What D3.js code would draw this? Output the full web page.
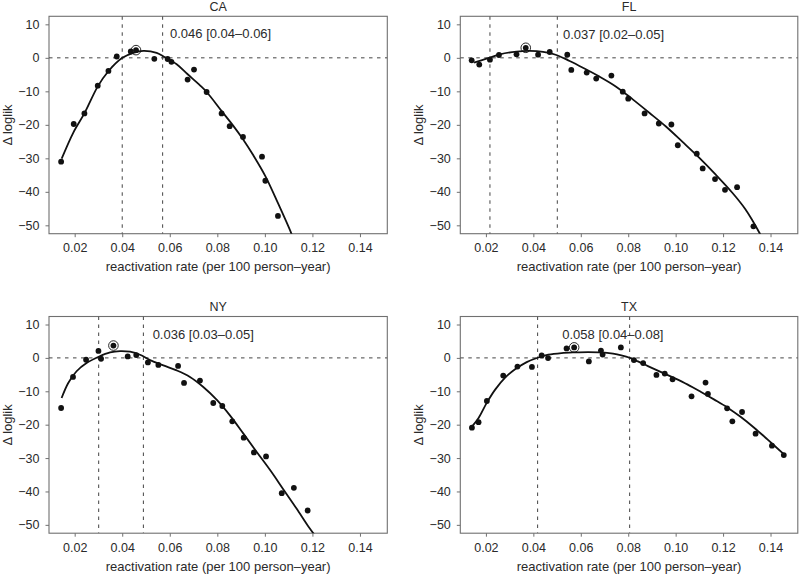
<!DOCTYPE html>
<html><head><meta charset="utf-8">
<script src="https://cdn.jsdelivr.net/npm/d3@7"></script>
<style>body{margin:0;background:#fff}</style>
</head><body><svg id="c" width="800" height="575"></svg>
<script>
// ---------- data ----------
const states = ["CA", "FL", "NY", "TX"];
const mleText = ["0.046 [0.04\u20130.06]", "0.037 [0.02\u20130.05]", "0.036 [0.03\u20130.05]", "0.058 [0.04\u20130.08]"];
const mleRate = [0.0458, 0.0368, 0.0363, 0.0572];
const mleLoglik = [2.3, 3.0, 3.7, 3.15];
const ciLow = [0.0400, 0.0217, 0.0301, 0.0418];
const ciHigh = [0.0570, 0.0501, 0.0489, 0.0806];
const textRate = [0.0601, 0.0525, 0.0528, 0.0522];
const textLoglik = [5.8, 5.6, 5.7, 5.7];

const xTicks = [0.02, 0.04, 0.06, 0.08, 0.10, 0.12, 0.14];
const xTickLabels = ["0.02", "0.04", "0.06", "0.08", "0.10", "0.12", "0.14"];
const yTicks = [10, 0, -10, -20, -30, -40, -50];
const yTickLabels = ["10", "0", "\u221210", "\u221220", "\u221230", "\u221240", "\u221250"];

const caRate = [0.0143, 0.0196, 0.0241, 0.0297, 0.0342, 0.0377, 0.0436, 0.0458, 0.0535, 0.0591, 0.0607, 0.0675, 0.0702, 0.0755, 0.0818, 0.0852, 0.0908, 0.0988, 0.1002, 0.1055];
const caLoglik = [-31.0, -19.75, -16.6, -8.3, -3.9, 0.4, 1.9, 2.3, -0.3, -0.35, -1.2, -6.5, -3.5, -10.2, -16.6, -20.4, -23.6, -29.5, -36.7, -47.2];
const caFitRate = [0.01453, 0.01944, 0.02407, 0.02967, 0.03416, 0.04005, 0.04467, 0.0489, 0.05449, 0.05799, 0.0629, 0.06753, 0.07271, 0.07552, 0.08183, 0.08673, 0.0908, 0.09514, 0.1002, 0.10552, 0.1110, 0.1115];
const caFitLoglik = [-30.1, -22.3, -16.6, -8.6, -4.0, 0.0, 1.5, 2.1, 1.5, 0.15, -1.9, -4.9, -8.2, -10.2, -15.9, -20.3, -24.3, -29.1, -35.3, -43.4, -52.2, -53.2];

const flRate = [0.0140, 0.0172, 0.0217, 0.0255, 0.0329, 0.0368, 0.0420, 0.0469, 0.0543, 0.0560, 0.0625, 0.0665, 0.0729, 0.0777, 0.0800, 0.0869, 0.0929, 0.0982, 0.1009, 0.1089, 0.1114, 0.1166, 0.1208, 0.1259, 0.1328];
const flLoglik = [-0.75, -2.0, -0.55, 0.85, 1.05, 3.0, 0.95, 1.75, 0.95, -3.6, -4.4, -6.2, -5.3, -10.1, -12.2, -16.6, -19.6, -19.9, -26.1, -28.6, -33.0, -36.2, -39.4, -38.6, -50.3];
const flFitRate = [0.0150, 0.0203, 0.0259, 0.0329, 0.0385, 0.0441, 0.0497, 0.0553, 0.0609, 0.0679, 0.0749, 0.0819, 0.0889, 0.0959, 0.1029, 0.1099, 0.1168, 0.1238, 0.1294, 0.1353, 0.1360];
const flFitLoglik = [-1.4, -0.25, 1.05, 1.85, 2.05, 1.75, 0.85, -0.95, -2.95, -5.6, -8.6, -12.4, -16.4, -20.5, -25.1, -29.8, -34.8, -40.2, -45.2, -52.2, -53.2];

const nyRate = [0.0143, 0.0193, 0.0248, 0.0300, 0.0311, 0.0363, 0.0423, 0.0459, 0.0508, 0.0552, 0.0635, 0.0660, 0.0727, 0.0783, 0.0821, 0.0863, 0.0911, 0.0954, 0.1005, 0.1071, 0.1122, 0.1180];
const nyLoglik = [-15.0, -5.7, -0.55, 2.1, -0.25, 3.7, 0.45, 0.85, -1.35, -2.1, -2.4, -7.5, -6.8, -13.5, -14.4, -19.0, -23.9, -28.3, -29.5, -40.5, -38.9, -45.7];
const nyFitRate = [0.0145, 0.0173, 0.0208, 0.0250, 0.0301, 0.0349, 0.0391, 0.0433, 0.0475, 0.0517, 0.0573, 0.0629, 0.0685, 0.0741, 0.0797, 0.0853, 0.0909, 0.0965, 0.1022, 0.1078, 0.1134, 0.1183, 0.1211];
const nyFitLoglik = [-12.0, -7.5, -4.0, -1.55, 0.35, 1.65, 2.05, 1.85, 0.95, -0.65, -2.25, -3.75, -5.7, -8.7, -12.5, -17.2, -22.6, -28.1, -33.6, -39.4, -45.2, -50.5, -53.2];

const txRate = [0.0141, 0.0169, 0.0204, 0.0273, 0.0333, 0.0394, 0.0435, 0.0462, 0.0540, 0.0572, 0.0634, 0.0685, 0.0692, 0.0769, 0.0824, 0.0863, 0.0919, 0.0954, 0.0987, 0.1067, 0.1126, 0.1136, 0.1217, 0.1239, 0.1280, 0.1337, 0.1406, 0.1456];
const txLoglik = [-20.9, -19.25, -12.9, -5.3, -2.6, -2.7, 0.75, -0.05, 2.85, 3.15, -1.05, 2.2, 1.0, 3.15, -0.65, -1.55, -5.1, -4.7, -6.4, -11.5, -7.4, -10.8, -15.1, -19.0, -16.2, -22.7, -26.3, -29.1];
const txFitRate = [0.0141, 0.0169, 0.0204, 0.0239, 0.0281, 0.0323, 0.0372, 0.0418, 0.0463, 0.0519, 0.0575, 0.0631, 0.0687, 0.0736, 0.0771, 0.0806, 0.0841, 0.0883, 0.0939, 0.0995, 0.1051, 0.1107, 0.1163, 0.1219, 0.1275, 0.1331, 0.1387, 0.1457];
const txFitLoglik = [-20.6, -18.0, -13.4, -9.5, -5.9, -3.4, -1.25, 0.05, 0.95, 1.45, 1.65, 1.75, 1.65, 1.25, 0.75, 0.05, -1.05, -2.45, -4.25, -6.05, -8.0, -10.2, -12.5, -14.9, -17.7, -20.9, -24.4, -28.9];

const pointsRate = [caRate, flRate, nyRate, txRate];
const pointsLoglik = [caLoglik, flLoglik, nyLoglik, txLoglik];
const fitRate = [caFitRate, flFitRate, nyFitRate, txFitRate];
const fitLoglik = [caFitLoglik, flFitLoglik, nyFitLoglik, txFitLoglik];

// ---------- layout ----------
const colX = [[49, 387.3], [460.3, 797.8]];
const rowY = [[16.3, 233.7], [316.5, 533.2]];
const xDomain = [0.0092, 0.1515];
const yDomain = [-52.5, 12.4];

const font = "'Liberation Sans', Arial, Helvetica, sans-serif";
const textColor = "#2a2a2a";
const frameColor = "#707070";

const svg = d3.select("#c");

states.forEach((st, i) => {
  const col = i % 2, row = Math.floor(i / 2);
  const [x0, x1] = colX[col], [y0, y1] = rowY[row];
  const x = d3.scaleLinear().domain(xDomain).range([x0, x1]);
  const y = d3.scaleLinear().domain(yDomain).range([y1, y0]);
  const g = svg.append("g");

  const clipId = "clip" + i;
  svg.append("clipPath").attr("id", clipId)
    .append("rect").attr("x", x0).attr("y", y0).attr("width", x1 - x0).attr("height", y1 - y0);

  // axes
  const xAxis = d3.axisBottom(x).tickValues(xTicks).tickFormat((d, k) => xTickLabels[k]).tickSize(3.5).tickPadding(6);
  const yAxis = d3.axisLeft(y).tickValues(yTicks).tickFormat((d, k) => yTickLabels[k]).tickSize(3.5).tickPadding(6);
  const gx = g.append("g").attr("transform", `translate(0,${y1})`).call(xAxis);
  const gy = g.append("g").attr("transform", `translate(${x0},0)`).call(yAxis);
  [gx, gy].forEach(a => {
    a.select(".domain").remove();
    a.selectAll(".tick line").attr("stroke", frameColor).attr("stroke-width", 1);
    a.selectAll(".tick text").attr("fill", textColor).style("font-family", font).style("font-size", "12.5px");
  });

  // frame
  g.append("rect").attr("x", x0).attr("y", y0).attr("width", x1 - x0).attr("height", y1 - y0)
    .attr("fill", "none").attr("stroke", frameColor).attr("stroke-width", 1.1);

  const pg = g.append("g").attr("clip-path", `url(#${clipId})`);

  // dashed reference lines
  pg.append("line").attr("x1", x0).attr("x2", x1).attr("y1", y(0)).attr("y2", y(0))
    .attr("stroke", "#444").attr("stroke-width", 1).attr("stroke-dasharray", "3.5,4.5");
  [ciLow[i], ciHigh[i]].forEach(v => {
    pg.append("line").attr("x1", x(v)).attr("x2", x(v)).attr("y1", y0).attr("y2", y1)
      .attr("stroke", "#444").attr("stroke-width", 1).attr("stroke-dasharray", "3.5,4.5");
  });

  // fitted curve
  const fit = fitRate[i].map((r, k) => [r, fitLoglik[i][k]]);
  pg.append("path").datum(fit)
    .attr("d", d3.line().x(d => x(d[0])).y(d => y(d[1])).curve(d3.curveCatmullRom))
    .attr("fill", "none").attr("stroke", "#111").attr("stroke-width", 1.8);

  // points
  const pts = pointsRate[i].map((r, k) => [r, pointsLoglik[i][k]]);
  pg.selectAll("circle.pt").data(pts).join("circle").attr("class", "pt")
    .attr("cx", d => x(d[0])).attr("cy", d => y(d[1])).attr("r", 2.9).attr("fill", "#111");

  // MLE ring
  pg.append("circle").attr("cx", x(mleRate[i])).attr("cy", y(mleLoglik[i])).attr("r", 4.8)
    .attr("fill", "none").attr("stroke", "#111").attr("stroke-width", 0.9);

  // annotation
  g.append("text").attr("x", x(textRate[i])).attr("y", y(textLoglik[i]))
    .attr("fill", textColor).style("font-family", font).style("font-size", "13px").text(mleText[i]);

  // title
  g.append("text").attr("x", (x0 + x1) / 2).attr("y", y0 - 5.5).attr("text-anchor", "middle")
    .attr("fill", textColor).style("font-family", font).style("font-size", "12.5px").text(st);

  // axis labels
  g.append("text").attr("x", (x0 + x1) / 2).attr("y", y1 + 37.5).attr("text-anchor", "middle")
    .attr("fill", textColor).style("font-family", font).style("font-size", "13px")
    .text("reactivation rate (per 100 person\u2013year)");
  g.append("text").attr("transform", `translate(${x0 - 37.5},${(y0 + y1) / 2}) rotate(-90)`)
    .attr("text-anchor", "middle")
    .attr("fill", textColor).style("font-family", font).style("font-size", "13px")
    .text("\u0394 loglik");
});
</script></body></html>
